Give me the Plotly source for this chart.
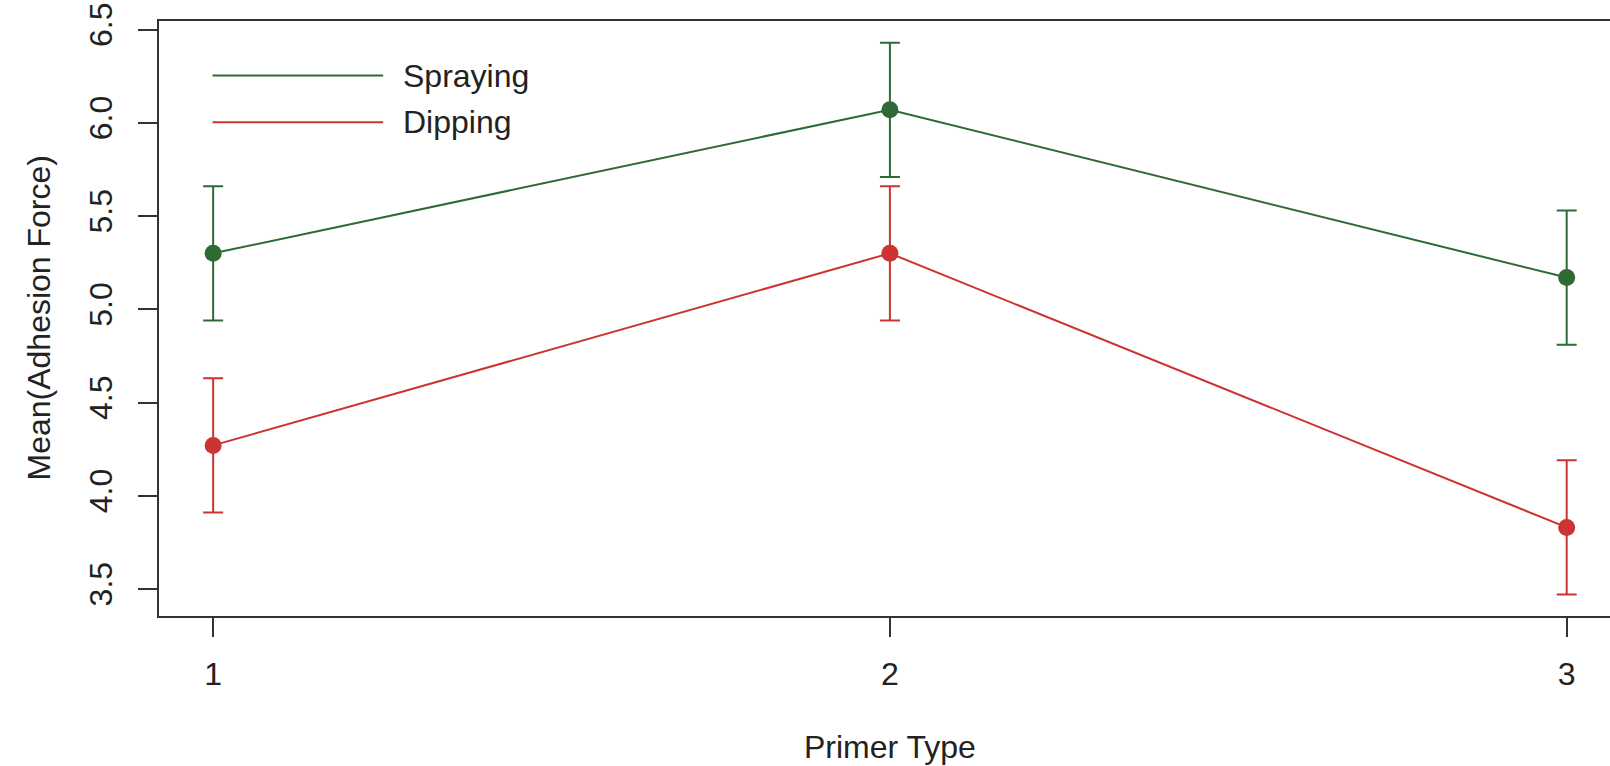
import plotly.graph_objects as go

primer = [1, 2, 3]
spraying = [5.30, 6.07, 5.17]
spraying_err = [0.36, 0.36, 0.36]
dipping = [4.27, 5.30, 3.83]
dipping_err = [0.36, 0.36, 0.36]
y_ticks = [3.5, 4.0, 4.5, 5.0, 5.5, 6.0, 6.5]
x_ticks = [1, 2, 3]

GREEN = "#2f6a34"
RED = "#cc3333"
AX = "#333333"
FONT = "Liberation Sans, Arial, sans-serif"
FS = 32

fig = go.Figure()
for name, vals, err, col in [("Spraying", spraying, spraying_err, GREEN),
                             ("Dipping", dipping, dipping_err, RED)]:
    fig.add_trace(go.Scatter(
        x=primer, y=vals, name=name, mode="lines+markers",
        line=dict(color=col, width=2),
        marker=dict(color=col, size=17),
        error_y=dict(type="data", array=err, visible=True, color=col,
                     thickness=2, width=10),
        showlegend=False,
    ))

W, H = 1610, 766
L, R, T, B = 159, 0, 21, 150
fig.update_layout(
    width=W, height=H,
    margin=dict(l=L, r=R, t=T, b=B, pad=0),
    paper_bgcolor="white", plot_bgcolor="white",
    font=dict(family=FONT, size=FS, color="#222222"),
    showlegend=False,
)
fig.update_xaxes(
    range=[0.92, 3.064], tickvals=x_ticks, ticktext=[str(v) for v in x_ticks],
    showgrid=False, zeroline=False,
    showline=True, linecolor=AX, linewidth=2, mirror=True,
    ticks="outside", ticklen=19, tickwidth=2, tickcolor=AX,
    ticklabelstandoff=10,
)
fig.update_yaxes(
    range=[3.355, 6.546], tickvals=y_ticks, ticktext=[f"{v:.1f}" for v in y_ticks],
    showgrid=False, zeroline=False,
    showline=True, linecolor=AX, linewidth=2, mirror=False,
    ticks="outside", ticklen=19, tickwidth=2, tickcolor=AX,
    tickangle=-90, ticklabelstandoff=13,
)

# legend (drawn manually, R-style)
for yv, name, col in [(0.9082, "Spraying", GREEN), (0.8297, "Dipping", RED)]:
    fig.add_shape(type="line", xref="paper", yref="paper",
                  x0=0.0369, x1=0.1545, y0=yv, y1=yv,
                  line=dict(color=col, width=2))
    fig.add_annotation(xref="paper", yref="paper", x=0.1671, y=yv, text=name,
                       showarrow=False, xanchor="left", yanchor="middle",
                       font=dict(size=FS, color="#222222"))

# axis titles
fig.add_annotation(xref="x", yref="paper", x=2, y=-0.2207, text="Primer Type",
                   showarrow=False, xanchor="center", yanchor="middle",
                   font=dict(size=FS, color="#222222"))
fig.add_annotation(xref="paper", yref="paper", x=0, y=0.5, xshift=-121,
                   text="Mean(Adhesion Force)", textangle=-90,
                   showarrow=False, xanchor="center", yanchor="middle",
                   font=dict(size=FS, color="#222222"))

fig.write_html("out.html")
